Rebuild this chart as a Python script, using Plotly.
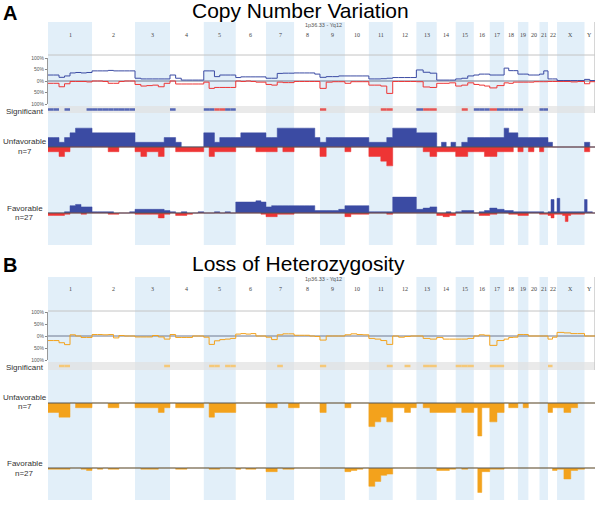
import plotly.graph_objects as go

# ---------------- data ----------------
CHROMS = ["1", "2", "3", "4", "5", "6", "7", "8", "9", "10", "11", "12", "13",
          "14", "15", "16", "17", "18", "19", "20", "21", "22", "X", "Y"]
CHROM_LEN_MB = [249.25, 243.2, 198.0, 191.15, 180.9, 171.1, 159.1, 146.4, 141.2,
                135.5, 135.0, 133.9, 115.2, 107.3, 102.5, 90.4, 81.2, 78.1, 59.1,
                63.0, 48.1, 51.3, 155.3, 59.4]
N_UNFAV = 7
N_FAV = 27
PCT_TICKS = [100, 50, 0, -50, -100]
PCT_LABELS = ["100%", "50%", "0%", "50%", "100%"]

# Copy number variation: frequency (%) of gain / loss over all samples
cnv_gain_freq = [[26, 26, 16, 22, 35, 37, 35, 37], [44, 44, 44, 46, 44, 44, 44, 44],
                 [12, 9, 9, 9, 9, 9], [26, 12, 4, 4, 4, 4], [44, 44, 19, 26, 26, 26],
                 [15, 18, 18, 18, 18, 18], [12, 12, 33, 34, 34], [35, 35, 35, 35, 30],
                 [16, 19, 19, 22], [22, 22, 22, 22], [9, 9, 10, 12], [15, 15, 15, 15],
                 [48, 38, 34], [4, 4, 4], [9, 12, 22], [26, 30, 30], [26, 26],
                 [56, 45, 45], [30, 30], [26, 26], [30, 44], [9, 9], [2, 2, 2, 2], [7, 2]]
cnv_loss_freq = [[10, 10, 25, 12, 2, 2, 2, 4], [0, 0, 2, 10, 10, 2, 0, 0],
                 [15, 22, 20, 18, 25, 10], [0, 13, 13, 13, 13, 13], [5, 32, 28, 28, 28, 28],
                 [0, 2, 0, 2, 5, 5], [15, 18, 5, 7, 7], [2, 2, 2, 2, 2],
                 [32, 5, 3, 3], [10, 3, 3, 3], [18, 18, 22, 54], [2, 2, 2, 2],
                 [3, 26, 28], [10, 10, 8], [22, 18, 8], [15, 18, 22], [30, 20],
                 [8, 10, 5], [5, 5], [5, 3], [3, 3], [2, 2], [2, 2, 4, 2], [12, 3]]
# significance: 1 = gain significant, -1 = loss significant, 0 = none
cnv_sig = [[1, 1, 0, 1, 0, 0, 0, 1], [1, 1, 1, 1, 1, 1, 1, 1], [0, 0, 0, 0, 0, 0],
           [1, 0, 0, 0, 0, 0], [1, 1, -1, -1, 1, 1], [0, 0, 0, 0, 0, 0], [0, 0, 0, 0, 0],
           [0, 0, 0, 0, 0], [-1, 0, 0, 0], [0, 0, 0, 0], [0, 0, -1, -1], [0, 0, 0, 0],
           [1, -1, -1], [0, 0, 0], [0, -1, 0], [1, 1, 1], [-1, 1], [1, 1, 1], [1, 0],
           [0, 0], [1, 1], [0, 0], [0, 0, 0, 0], [0, 0]]
# number of patients with gain / loss
cnv_unfav_gain = [[2, 2, 1, 2, 3, 4, 4, 4], [3, 3, 3, 3, 3, 3, 3, 3], [1, 1, 1, 1, 1, 2],
                  [2, 1, 0, 0, 0, 0], [3, 3, 1, 2, 2, 2], [2, 3, 3, 3, 3, 3], [2, 2, 4, 4, 4],
                  [4, 4, 4, 4, 2], [1, 2, 2, 2], [2, 2, 2, 2], [1, 1, 1, 2], [4, 4, 4, 4],
                  [3, 3, 3], [0, 1, 0, 1], [0, 1, 2], [2, 2, 2], [2, 2], [4, 3, 3], [2, 2],
                  [2, 2], [2, 2], [1, 0], [0, 0, 0, 0], [1, 0]]
cnv_unfav_loss = [[1, 1, 2, 1, 0, 0, 0, 0], [0, 0, 0, 1, 1, 0, 0, 0], [1, 2, 1, 1, 2, 0],
                  [0, 1, 1, 1, 1, 1], [0, 2, 1, 1, 1, 1], [0, 0, 0, 0, 1, 1], [1, 1, 0, 1, 1],
                  [0, 0, 0, 0, 0], [2, 0, 0, 0], [1, 0, 0, 0], [2, 2, 3, 4], [0, 0, 0, 0],
                  [0, 1, 2], [1, 1, 1], [2, 2, 1], [1, 1, 2], [2, 1], [1, 1, 0], [1, 0],
                  [1, 0], [1, 0], [0, 0], [0, 0, 0, 0], [1, 0]]
cnv_fav_gain = [[0, 0, 0, 1, 6, 7, 5, 5], [1, 1, 1, 1, 0, 0, 0, 1], [3, 3, 3, 3, 3, 2],
                [1, 0, 1, 0, 0, 1], [0, 0, 1, 0, 1, 0], [9, 9, 9, 9, 10, 9], [5, 6, 6, 6, 6],
                [6, 6, 6, 6, 2], [2, 2, 2, 3], [6, 6, 6, 6], [1, 1, 1, 1], [13, 13, 13, 13],
                [3, 4, 5], [0, 0, 1, 0], [1, 2, 2], [0, 1, 2], [4, 3], [2, 2, 1], [1, 1],
                [1, 1], [1, 0], [1, 11, 1], [12, 1, 1, 1, 1, 1, 1, 1, 1, 1], [11, 1, 1, 0]]
cnv_fav_loss = [[2, 2, 2, 1, 0, 0, 1, 0], [0, 0, 0, 1, 1, 0, 0, 0], [1, 1, 1, 1, 4, 1],
                [0, 2, 2, 1, 0, 0], [0, 0, 0, 0, 0, 0], [0, 0, 0, 0, 0, 1], [3, 3, 1, 1, 1],
                [0, 0, 0, 0, 0], [0, 0, 0, 0], [3, 1, 1, 1], [0, 0, 0, 1], [0, 0, 0, 0],
                [0, 0, 0], [2, 3, 2], [0, 0, 0], [0, 2, 2], [1, 0], [0, 1, 1], [2, 2],
                [0, 0], [1, 1], [2, 4, 1], [1, 1, 2, 7, 2, 1, 1, 1, 1, 1], [0, 0]]

# Loss of heterozygosity
loh_freq = [[-19, -19, -28, -36, 5, 0, -6, -6], [6, 6, 5, 6, -8, 2, 0, 0],
            [-4, -4, -4, 2, -4, -13], [6, -6, -6, -6, 0, 0], [-5, -35, -20, -15, -13, -10],
            [8, 10, 8, 10, 0, 0], [-5, -15, 5, 9, 9], [3, 3, 3, 0, -2], [-17, 0, 0, 0],
            [5, 9, 6, 5], [-10, -13, -19, -35], [0, -5, -2, 0], [0, -10, -13],
            [-6, -13, -13], [-13, -13, -10], [0, 5, 3], [-39, -19], [-13, -6, -5],
            [6, 6], [0, 0], [0, 0], [-13, -5], [15, 13, 10, 10], [0, 0]]
loh_sig = [[0, 0, 1, 1, 0, 0, 0, 0], [0] * 8, [0, 0, 0, 0, 0, 1], [0] * 6,
           [0, 1, 1, 0, 1, 1], [0] * 6, [0, 0, 1, 0, 0], [0] * 5, [1, 0, 0, 0], [0] * 4,
           [0, 0, 0, 1], [0, 0, 1, 0], [0, 1, 1], [0, 0, 0], [1, 1, 1], [0, 0, 0], [1, 1],
           [0, 0, 0], [0, 0], [0, 0], [0, 0], [1, 0], [0, 0, 0, 0], [0, 0]]
loh_unfav = [[2, 2, 3, 3, 0, 1, 1, 1], [0, 0, 0, 1, 1, 0, 0, 0], [1, 1, 1, 1, 2, 1],
             [0, 1, 1, 1, 1, 1], [0, 3, 2, 2, 2, 2], [0, 0, 0, 0, 0, 0], [1, 1, 0, 0, 1],
             [1, 0, 0, 0, 0], [2, 0, 0, 0], [1, 0, 0, 0], [5, 4, 3, 4], [1, 1, 2, 1],
             [0, 1, 2], [2, 2, 2], [1, 2, 2], [1, 7, 1, 1], [4, 2], [0, 1, 1], [0, 1],
             [0, 0], [0, 0], [2, 1], [1, 2, 1, 0], [0, 0]]
loh_fav = [[1, 1, 1, 1, 0, 0, 1, 2], [0, 1, 0, 1, 1, 0, 0, 0], [0, 1, 1, 1, 0, 0],
           [0, 1, 1, 0, 0, 0], [0, 1, 1, 0, 0, 0], [1, 0, 1, 1, 0, 0], [3, 3, 0, 1, 1],
           [0, 0, 0, 0, 0], [0, 0, 0, 0], [3, 2, 1, 0], [15, 11, 6, 5], [0, 0, 0, 0],
           [0, 0, 0], [2, 2, 1], [0, 1, 0], [0, 20, 3, 3], [1, 1], [0, 0, 0], [0, 0],
           [0, 0], [0, 0], [0, 2], [1, 9, 2, 1], [0, 0]]

# ---------------- helpers ----------------
W, H = 600, 506
starts = []
acc = 0.0
for L in CHROM_LEN_MB:
    starts.append(acc)
    acc += L
TOTAL = acc

BLUE = "#3b4ba3"
RED = "#ee3535"
ORANGE = "#f3a21c"
BAND = "#e2eff9"
SANS = "Liberation Sans, Arial, sans-serif"
SERIF = "Liberation Serif, Times New Roman, serif"


def steps(series, scale=1.0, sign=1):
    xs, ys = [], []
    for c, vals in enumerate(series):
        s, L, k = starts[c], CHROM_LEN_MB[c], len(vals)
        for i, v in enumerate(vals):
            xs.append(s + L * i / k)
            ys.append(sign * v * scale)
    xs.append(TOTAL)
    ys.append(ys[-1])
    return xs, ys


def sig_segments(series, code):
    xs, ys = [], []
    for c, vals in enumerate(series):
        s, L, k = starts[c], CHROM_LEN_MB[c], len(vals)
        for i, v in enumerate(vals):
            if v == code:
                xs += [s + L * i / k, s + L * (i + 1) / k, None]
                ys += [0.5, 0.5, None]
    return xs, ys


def dom(top, bottom):
    return [1 - bottom / H, 1 - top / H]


def py(y):
    return 1 - y / H


fig = go.Figure()


def line_trace(series, yaxis, color, sign=1):
    x, y = steps(series, 1.0, sign)
    fig.add_trace(go.Scatter(x=x, y=y, mode="lines", line=dict(color=color, width=1, shape="hv"),
                             yaxis=yaxis, hoverinfo="skip", showlegend=False))


def fill_trace(series, n, yaxis, color, sign=1):
    x, y = steps(series, 1.0 / n, sign)
    fig.add_trace(go.Scatter(x=x, y=y, mode="lines", line=dict(color=color, width=0.5, shape="hv"),
                             fill="tozeroy", fillcolor=color, yaxis=yaxis,
                             hoverinfo="skip", showlegend=False))


def sig_trace(series, code, yaxis, color):
    x, y = sig_segments(series, code)
    if x:
        fig.add_trace(go.Scatter(x=x, y=y, mode="lines", line=dict(color=color, width=2.5),
                                 yaxis=yaxis, hoverinfo="skip", showlegend=False,
                                 connectgaps=False))


# Panel A
line_trace(cnv_gain_freq, "y", BLUE)
line_trace(cnv_loss_freq, "y", RED, -1)
sig_trace(cnv_sig, 1, "y2", "#5566b5")
sig_trace(cnv_sig, -1, "y2", "#e65555")
fill_trace(cnv_unfav_gain, N_UNFAV, "y3", BLUE)
fill_trace(cnv_unfav_loss, N_UNFAV, "y3", RED, -1)
fill_trace(cnv_fav_gain, N_FAV, "y4", BLUE)
fill_trace(cnv_fav_loss, N_FAV, "y4", RED, -1)
# Panel B
line_trace(loh_freq, "y5", ORANGE)
sig_trace(loh_sig, 1, "y6", "#f5c878")
fill_trace(loh_unfav, N_UNFAV, "y7", ORANGE, -1)
fill_trace(loh_fav, N_FAV, "y8", ORANGE, -1)

SCALE = 33.0  # px per unit fraction
HALF = 38.0


def bar_axis(base):
    return dict(domain=dom(base - HALF, base + HALF), range=[-HALF / SCALE, HALF / SCALE],
                visible=False, anchor="x", fixedrange=True, automargin=False)


def pct_axis(top, bottom):
    return dict(domain=dom(top, bottom), range=[-100, 100], tickvals=PCT_TICKS,
                ticktext=PCT_LABELS, ticks="outside", ticklen=2, tickcolor="#888",
                showline=True, linecolor="#999", linewidth=1, showgrid=False,
                zeroline=False, tickfont=dict(size=5, color="#555", family=SANS),
                anchor="x", fixedrange=True, automargin=False)


shapes = []
# chromosome bands
for c, name in enumerate(CHROMS):
    if c % 2 == 0 and name != "Y":
        for (t, b) in [(22, 245), (277, 500)]:
            shapes.append(dict(type="rect", xref="x", yref="paper", x0=starts[c],
                               x1=starts[c] + CHROM_LEN_MB[c], y0=py(b), y1=py(t),
                               fillcolor=BAND, line=dict(width=0), layer="below"))
# significant strips
for (t, b) in [(106, 113), (362, 370)]:
    shapes.append(dict(type="rect", xref="x", yref="paper", x0=0, x1=TOTAL, y0=py(b), y1=py(t),
                       fillcolor="rgba(225,225,225,0.7)", line=dict(width=0), layer="below"))
# frame lines
for yy in [55, 311]:
    shapes.append(dict(type="line", xref="x", yref="paper", x0=0, x1=TOTAL, y0=py(yy), y1=py(yy),
                       line=dict(color="#c4c4c4", width=1), layer="below"))
for (t, b) in [(22, 113), (277, 370)]:
    shapes.append(dict(type="line", xref="x", yref="paper", x0=TOTAL, x1=TOTAL, y0=py(b), y1=py(t),
                       line=dict(color="#c8c8c8", width=1.5), layer="below"))
# zero lines of frequency panels
for ax in ["y", "y5"]:
    shapes.append(dict(type="line", xref="x", yref=ax, x0=0, x1=TOTAL, y0=0, y1=0,
                       line=dict(color="#6f7890", width=1), layer="below"))
# baselines of patient groups
for ax in ["y3", "y4", "y7", "y8"]:
    shapes.append(dict(type="line", xref="x", yref=ax, x0=0, x1=TOTAL, y0=0, y1=0,
                       line=dict(color="#555555", width=1), layer="above"))

annotations = []


def text(x, y, s, size, color="#333", family=SANS, xanchor="center", bold=False):
    annotations.append(dict(x=x / W, y=py(y), xref="paper", yref="paper",
                            text=("<b>%s</b>" % s) if bold else s,
                            showarrow=False, xanchor=xanchor, yanchor="middle", borderpad=0,
                            font=dict(size=size, color=color, family=family)))


# chromosome labels
for c, name in enumerate(CHROMS):
    xc = 48 + (starts[c] + CHROM_LEN_MB[c] / 2) / TOTAL * 547
    text(xc, 35, name, 6, "#444", SERIF)
    text(xc, 289, name, 6, "#444", SERIF)

text(10, 13, "A", 20, "#000", bold=True)
text(10, 265, "B", 20, "#000", bold=True)
text(300, 11, "Copy Number Variation", 21, "#000")
text(298, 263.5, "Loss of Heterozygosity", 21, "#000")
text(304, 25, "1p36.33 - Yq12", 5.5, "#555", xanchor="left")
text(304, 279, "1p36.33 - Yq12", 5.5, "#555", xanchor="left")
for t_sig, t_u, t_f in [(111.5, 142, 208.5), (367, 397, 463.5)]:
    text(24.5, t_sig, "Significant", 8, "#333")
    text(24.5, t_u, "Unfavorable", 8, "#333")
    text(24.5, t_u + 9.5, "n=7", 8, "#333")
    text(24.5, t_f, "Favorable", 8, "#333")
    text(24.5, t_f + 9.5, "n=27", 8, "#333")

fig.update_layout(
    width=W, height=H, autosize=False,
    margin=dict(l=0, r=0, t=0, b=0, pad=0),
    paper_bgcolor="white", plot_bgcolor="rgba(0,0,0,0)",
    showlegend=False,
    xaxis=dict(domain=[48 / W, 595 / W], range=[0, TOTAL], visible=False, fixedrange=True,
               automargin=False),
    yaxis=pct_axis(58, 104),
    yaxis2=dict(domain=dom(106, 113), range=[0, 1], visible=False, anchor="x", fixedrange=True),
    yaxis3=bar_axis(147),
    yaxis4=bar_axis(213),
    yaxis5=pct_axis(312, 360),
    yaxis6=dict(domain=dom(362, 370), range=[0, 1], visible=False, anchor="x", fixedrange=True),
    yaxis7=bar_axis(403),
    yaxis8=bar_axis(468),
    shapes=shapes,
    annotations=annotations,
)

fig.write_html("out.html", config={"displayModeBar": False},
               post_script="document.body.style.margin='0px';document.body.style.padding='0px';")
